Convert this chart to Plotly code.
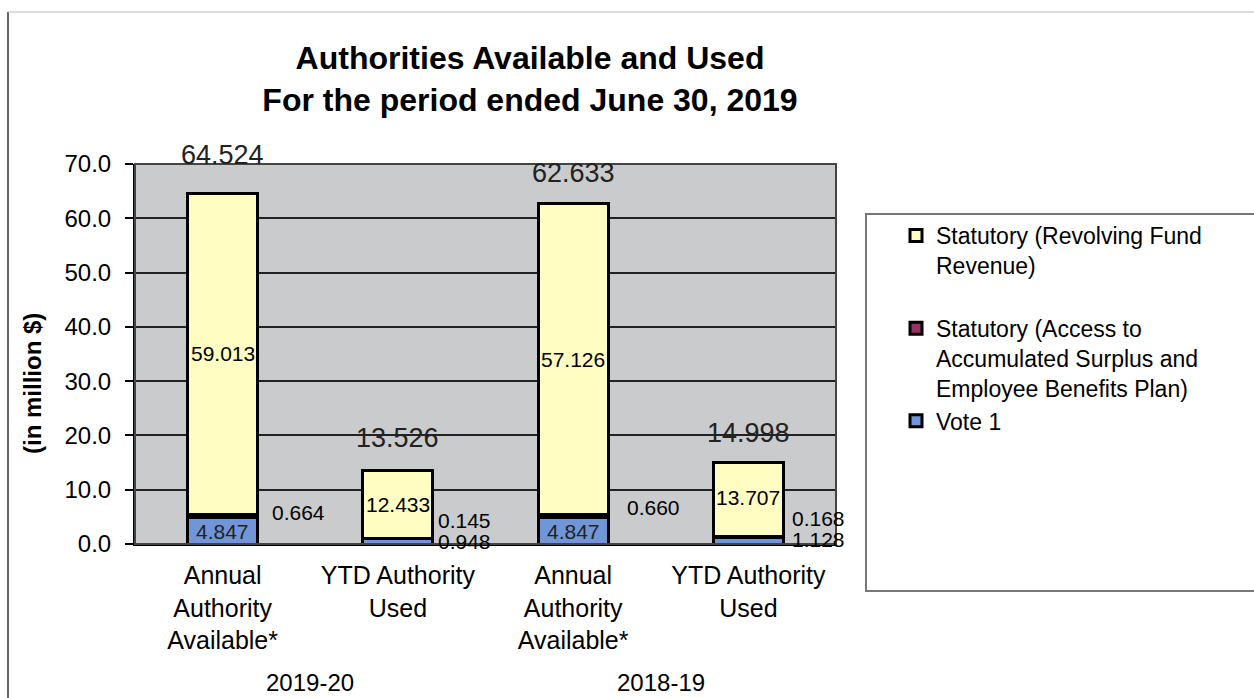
import plotly.graph_objects as go

# ---- data ----
categories = ["Annual<br>Authority<br>Available*", "YTD Authority<br>Used",
              "Annual<br>Authority<br>Available*", "YTD Authority<br>Used"]
years = ["2019-20", "2018-19"]
vote1 = [4.847, 0.948, 4.847, 1.128]
stat_access = [0.664, 0.145, 0.660, 0.168]
stat_revolving = [59.013, 12.433, 57.126, 13.707]
totals = [64.524, 13.526, 62.633, 14.998]
y_ticks = [0, 10, 20, 30, 40, 50, 60, 70]

# ---- style / placement (pixels) ----
FONT = "Arial, Liberation Sans, sans-serif"
W, H = 1254, 698
L, R, T, B = 135, 836, 164, 544
pw, ph = R - L, B - T
BLUE = "#7195D9"
MAROON = "#993366"
YELLOW = "#FFFDC2"
BG = "#C9CBCD"

vote1_inside = [True, False, True, False]
access_dx = [12, 3, 17, 7]       # px right of bar edge
access_dy = [3, 18, 8, 19]       # px upward shift from segment middle
vote1_dx = [0, 3, 0, 7]
vote1_dy = [0, 0, 0, 1]
total_dy = [39, 33, 31, 30]
revolving_dy = [0, 0, 0, 2]

x = list(range(len(categories)))
bw = 0.4

def px_x(p):
    return (p - L) / pw

def px_y(p):
    return (B - p) / ph

fig = go.Figure()
fig.add_trace(go.Bar(
    x=x, y=vote1, name="Vote 1", width=bw, legendrank=3,
    marker=dict(color=BLUE, line=dict(color="black", width=3)),
    hoverinfo="skip"))
fig.add_trace(go.Bar(
    x=x, y=stat_access, legendrank=2,
    name="Statutory (Access to<br>Accumulated Surplus and<br>Employee Benefits Plan)",
    width=bw, marker=dict(color=MAROON, line=dict(color="black", width=3)),
    hoverinfo="skip"))
fig.add_trace(go.Bar(
    x=x, y=stat_revolving, name="Statutory (Revolving Fund<br>Revenue)<br> ", width=bw,
    legendrank=1,
    marker=dict(color=YELLOW, line=dict(color="black", width=3)),
    hoverinfo="skip"))

ann = []
for i in x:
    base_rev = vote1[i] + stat_access[i]
    stack_top = base_rev + stat_revolving[i]
    # total above bar
    ann.append(dict(x=i, y=stack_top, xref="x", yref="y", text=f"{totals[i]:.3f}",
                    showarrow=False, yshift=total_dy[i], font=dict(family=FONT, size=27, color="#222"),
                    xanchor="center", yanchor="middle"))
    # revolving fund value in the middle of its segment
    ann.append(dict(x=i, y=base_rev + stat_revolving[i] / 2, xref="x", yref="y",
                    text=f"{stat_revolving[i]:.3f}", showarrow=False, yshift=revolving_dy[i],
                    xanchor="center", yanchor="middle",
                    font=dict(family=FONT, size=21, color="black")))
    # statutory access label right of bar
    ann.append(dict(x=i + bw / 2, y=vote1[i] + stat_access[i] / 2, xref="x", yref="y",
                    text=f"{stat_access[i]:.3f}", showarrow=False, xanchor="left", yanchor="middle",
                    xshift=access_dx[i], yshift=access_dy[i],
                    font=dict(family=FONT, size=21, color="black")))
    # vote 1 label
    if vote1_inside[i]:
        ann.append(dict(x=i, y=vote1[i] / 2, xref="x", yref="y",
                        text=f"{vote1[i]:.3f}", showarrow=False, xanchor="center", yanchor="middle",
                        yshift=-1, font=dict(family=FONT, size=21, color="#222")))
    else:
        ann.append(dict(x=i + bw / 2, y=vote1[i] / 2, xref="x", yref="y",
                        text=f"{vote1[i]:.3f}", showarrow=False, xanchor="left", yanchor="middle",
                        xshift=vote1_dx[i], yshift=vote1_dy[i],
                        font=dict(family=FONT, size=21, color="black")))

for k, yr in enumerate(years):
    ann.append(dict(x=2 * k + 0.5, y=px_y(682), xref="x", yref="paper", text=yr, showarrow=False,
                    xanchor="center", yanchor="middle", font=dict(family=FONT, size=24, color="black")))

ann.append(dict(x=px_x(32), y=px_y(383), xref="paper", yref="paper", text="<b>(in million $)</b>",
                textangle=-90, showarrow=False, xanchor="center", yanchor="middle",
                font=dict(family=FONT, size=24, color="black")))

shapes = [
    dict(type="rect", xref="paper", yref="paper", x0=0, x1=1, y0=0, y1=1,
         line=dict(color="#444", width=2), layer="above"),
    dict(type="rect", xref="paper", yref="paper", x0=px_x(866), x1=px_x(1262),
         y0=px_y(591), y1=px_y(214), line=dict(color="#777", width=2)),
    dict(type="line", xref="paper", yref="paper", x0=px_x(8), x1=px_x(8),
         y0=px_y(700), y1=px_y(12), line=dict(color="#666", width=2)),
    dict(type="line", xref="paper", yref="paper", x0=px_x(8), x1=px_x(1260),
         y0=px_y(12), y1=px_y(12), line=dict(color="#BBB", width=1)),
]

fig.update_layout(
    width=W, height=H, barmode="stack",
    margin=dict(l=L, r=W - R, t=T, b=H - B, pad=0),
    paper_bgcolor="white", plot_bgcolor=BG,
    title=dict(text="<b>Authorities Available and Used<br>For the period ended June 30, 2019</b>",
               x=530 / W, xanchor="center", y=1 - 69 / H, yanchor="middle", yref="container",
               font=dict(family=FONT, size=32, color="black")),
    font=dict(family=FONT, color="black"),
    legend=dict(x=px_x(896), y=px_y(214), xanchor="left", yanchor="top",
                traceorder="normal", valign="top",
                font=dict(family=FONT, size=23, color="black"), bgcolor="rgba(0,0,0,0)"),
    annotations=ann, shapes=shapes, showlegend=True,
)
fig.update_xaxes(range=[-0.5, 3.5], tickvals=x, ticktext=categories, showgrid=False,
                 showline=True, linecolor="black", linewidth=2, ticks="",
                 ticklabelstandoff=8,
                 tickfont=dict(family=FONT, size=25, color="black"), fixedrange=True)
fig.update_yaxes(range=[0, 70], tickvals=y_ticks, tickformat=".1f", showgrid=True,
                 gridcolor="#222", gridwidth=1.5, showline=True, linecolor="black", linewidth=2,
                 ticks="outside", ticklen=8, tickcolor="black", tickwidth=2, zeroline=False,
                 ticklabelstandoff=9,
                 tickfont=dict(family=FONT, size=24, color="black"), fixedrange=True)

fig.write_html("out.html")
